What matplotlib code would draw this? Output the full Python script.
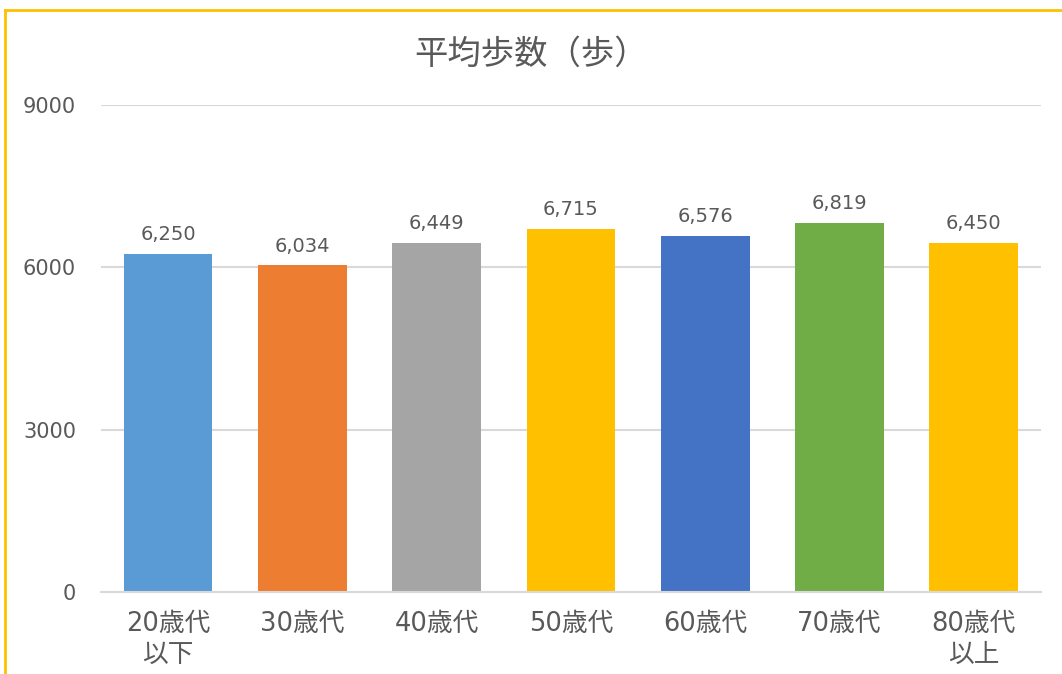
import numpy as np
import matplotlib.pyplot as plt
from matplotlib.lines import Line2D

plt.rcParams['font.family'] = ['DejaVu Sans', 'Noto Sans CJK JP']

categories = ["20歳代\n以下", "30歳代", "40歳代", "50歳代", "60歳代", "70歳代", "80歳代\n以上"]
steps = [6250, 6034, 6449, 6715, 6576, 6819, 6450]
colors = ["#5B9BD5", "#ED7D31", "#A5A5A5", "#FFC000", "#4472C4", "#70AD47", "#FFC000"]
yticks = [0, 3000, 6000, 9000]

text_color = "#595959"

fig = plt.figure(figsize=(10.62, 6.74), dpi=100)
ax = fig.add_axes([0.0951, 0.1217, 0.885, 0.7225])

x = np.arange(len(categories))
bars = ax.bar(x, steps, width=0.66, color=colors, zorder=2)

for xi, v in zip(x, steps):
    ax.annotate(f"{v:,}", (xi, v), xytext=(0, 7), textcoords="offset points",
                ha="center", va="bottom", fontsize=14, color=text_color)

ax.set_xlim(-0.5, len(categories) - 0.5)
ax.set_ylim(0, 9000)
ax.set_yticks(yticks)
ax.set_yticklabels([str(t) for t in yticks], fontsize=15, color=text_color)
ax.set_xticks(x)
ax.set_xticklabels(categories, fontsize=18.5, color=text_color, linespacing=1.2)
ax.tick_params(axis="y", length=0, pad=18)
ax.tick_params(axis="x", length=0, pad=14)
ax.grid(axis="y", color="#D9D9D9", linewidth=1.5, zorder=0)
for s in ["top", "right", "left"]:
    ax.spines[s].set_visible(False)
ax.spines["bottom"].set_color("#D9D9D9")
ax.spines["bottom"].set_linewidth(1.5)

fig.text(0.5, 1 - 54 / 674, "平均歩数（歩）", ha="center", va="center", fontsize=24,
         color=text_color, family=['Noto Sans CJK JP', 'DejaVu Sans'])

# partial chart border
fig.add_artist(Line2D([5 / 1062, 1], [1 - 10 / 674, 1 - 10 / 674], color="#FFC000", linewidth=2))
fig.add_artist(Line2D([5 / 1062, 5 / 1062], [0, 1 - 10 / 674], color="#FFC000", linewidth=2))

fig.savefig("out.png", dpi=100)
